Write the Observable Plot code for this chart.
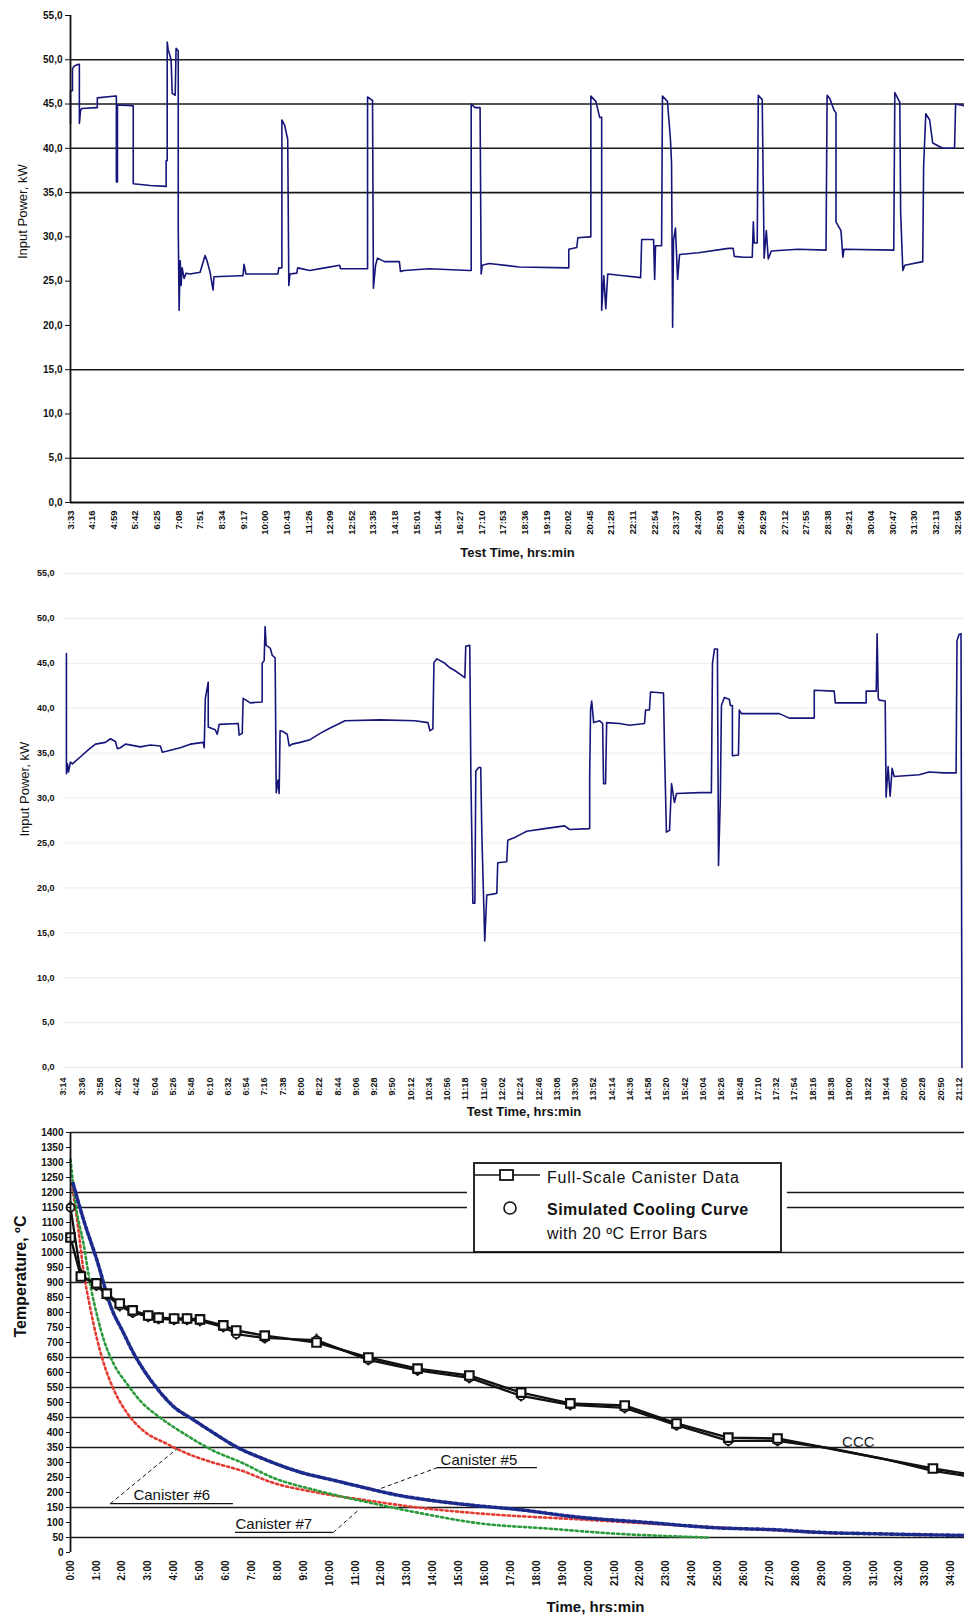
<!DOCTYPE html>
<html><head><meta charset="utf-8">
<script src="https://cdn.jsdelivr.net/npm/d3@7"></script>
<script src="https://cdn.jsdelivr.net/npm/@observablehq/plot@0.6"></script>
<style>
html,body{margin:0;padding:0;background:#fff;}
#wrap{position:relative;width:964px;height:1621px;overflow:hidden;background:#fff;}
#wrap svg{display:block;}
</style></head><body><div id="wrap"></div>
<script>
// ---------- Panel 1 : Input Power vs Test Time ----------
const p1TickLabels = ["3:33","4:16","4:59","5:42","6:25","7:08","7:51","8:34","9:17","10:00","10:43","11:26","12:09","12:52","13:35","14:18","15:01","15:44","16:27","17:10","17:53","18:36","19:19","20:02","20:45","21:28","22:11","22:54","23:37","24:20","25:03","25:46","26:29","27:12","27:55","28:38","29:21","30:04","30:47","31:30","32:13","32:56"];
const p1YTicks = [0,5,10,15,20,25,30,35,40,45,50,55];
const p1GridLines = [50,45,40,35,15,5];
// [position in label steps, kW]
const p1Power = [[0,42.8],[0,46.5],[0.09,46.5],[0.09,49.0],[0.18,49.3],[0.37,49.5],[0.41,49.5],[0.41,42.8],[0.46,44.2],[0.51,44.5],[1.20,44.6],[1.24,44.6],[1.24,45.7],[2.07,45.9],[2.12,45.9],[2.12,36.2],[2.17,36.2],[2.17,44.9],[2.86,44.8],[2.90,44.8],[2.90,36.0],[3.69,35.8],[4.42,35.7],[4.42,38.6],[4.47,38.6],[4.47,52.0],[4.51,51.2],[4.65,50.0],[4.70,46.2],[4.84,46.0],[4.88,51.3],[4.98,51.0],[4.98,31.0],[5.02,21.7],[5.07,27.3],[5.11,24.5],[5.16,26.5],[5.25,25.3],[5.34,25.9],[5.53,25.8],[5.99,26.0],[6.22,27.9],[6.31,27.3],[6.45,26.0],[6.59,24.0],[6.63,25.5],[7.83,25.6],[7.97,25.6],[8.02,26.9],[8.11,25.8],[9.58,25.8],[9.63,26.5],[9.77,26.5],[9.77,43.2],[9.90,42.6],[10.04,41.0],[10.09,24.5],[10.14,25.8],[10.46,25.9],[10.50,26.5],[11.06,26.2],[11.75,26.5],[12.44,26.8],[12.48,26.4],[13.73,26.4],[13.73,45.8],[13.96,45.4],[14.00,24.2],[14.10,26.8],[14.19,27.6],[14.51,27.2],[15.20,27.2],[15.25,26.1],[15.43,26.2],[16.58,26.4],[18.43,26.2],[18.52,26.2],[18.52,45.0],[18.70,44.6],[18.93,44.6],[18.98,25.8],[19.03,26.8],[19.35,27.0],[20.73,26.6],[23.03,26.5],[23.03,28.6],[23.40,28.8],[23.45,29.9],[24.00,30.0],[24.05,30.0],[24.05,45.9],[24.28,45.3],[24.46,43.5],[24.55,43.5],[24.55,21.7],[24.65,25.6],[24.74,21.9],[24.83,25.8],[25.57,25.6],[26.35,25.4],[26.40,29.7],[26.95,29.7],[27.00,25.2],[27.04,29.0],[27.32,29.0],[27.36,45.9],[27.59,45.3],[27.73,41.0],[27.78,38.3],[27.83,19.8],[27.87,29.6],[27.96,31.0],[28.06,25.2],[28.15,28.0],[29.02,28.2],[30.41,28.7],[30.63,28.7],[30.68,27.8],[31.10,27.7],[31.51,27.7],[31.56,31.7],[31.60,29.3],[31.74,29.3],[31.79,46.0],[31.97,45.5],[32.06,27.6],[32.16,30.7],[32.25,27.5],[32.39,28.4],[33.63,28.6],[34.92,28.5],[34.97,46.0],[35.10,45.6],[35.29,44.3],[35.38,44.0],[35.38,31.7],[35.61,30.7],[35.70,27.7],[35.75,28.6],[38.05,28.5],[38.10,46.3],[38.33,45.2],[38.37,32.6],[38.47,26.2],[38.56,26.8],[39.39,27.2],[39.43,37.9],[39.53,43.9],[39.71,43.2],[39.85,40.6],[40.31,40.0],[40.86,40.0],[40.91,45.0],[41.30,44.8]];

// ---------- Panel 2 : Input Power vs Test Time ----------
const p2TickLabels = ["3:14","3:36","3:58","4:20","4:42","5:04","5:26","5:48","6:10","6:32","6:54","7:16","7:38","8:00","8:22","8:44","9:06","9:28","9:50","10:12","10:34","10:56","11:18","11:40","12:02","12:24","12:46","13:08","13:30","13:52","14:14","14:36","14:58","15:20","15:42","16:04","16:26","16:48","17:10","17:32","17:54","18:16","18:38","19:00","19:22","19:44","20:06","20:28","20:50","21:12"];
const p2YTicks = [0,5,10,15,20,25,30,35,40,45,50,55];
const p2Power = [[0.16,46.1],[0.16,32.7],[0.22,33.8],[0.27,32.9],[0.38,34.0],[0.49,33.8],[0.93,34.6],[1.37,35.4],[1.75,36.0],[2.29,36.2],[2.57,36.6],[2.84,36.3],[2.95,35.5],[3.11,35.6],[3.39,36.0],[4.21,35.7],[4.75,35.9],[5.30,35.8],[5.41,35.1],[5.63,35.2],[6.39,35.6],[6.94,36.0],[7.65,36.2],[7.70,35.6],[7.76,41.1],[7.92,42.9],[7.92,37.9],[8.30,37.6],[8.41,37.1],[8.52,38.2],[9.56,38.3],[9.61,37.0],[9.78,37.2],[9.83,41.1],[10.22,40.6],[10.87,40.7],[10.87,45.0],[10.98,45.3],[11.03,49.1],[11.09,47.0],[11.31,46.7],[11.42,45.9],[11.58,45.6],[11.64,30.6],[11.74,32.0],[11.80,30.5],[11.85,37.5],[12.02,37.4],[12.24,37.1],[12.35,35.8],[12.51,36.0],[12.95,36.2],[13.49,36.5],[14.04,37.2],[14.59,37.8],[15.40,38.6],[17.32,38.7],[19.23,38.6],[19.94,38.4],[20.05,37.5],[20.21,37.7],[20.27,45.1],[20.43,45.5],[20.87,45.0],[21.14,44.5],[21.41,44.2],[21.69,43.8],[21.96,43.4],[22.01,46.9],[22.23,47.0],[22.29,32.5],[22.40,18.3],[22.51,18.3],[22.56,33.0],[22.72,33.4],[22.83,33.4],[22.89,26.0],[23.05,14.1],[23.16,19.2],[23.49,19.3],[23.71,19.4],[23.76,22.8],[24.25,22.9],[24.31,25.3],[24.69,25.6],[24.96,25.9],[25.35,26.3],[26.33,26.6],[27.42,26.9],[27.69,26.5],[28.79,26.6],[28.79,32.3],[28.84,39.8],[28.90,40.8],[29.01,38.4],[29.34,38.6],[29.50,38.3],[29.55,31.6],[29.66,31.6],[29.72,38.4],[30.43,38.3],[30.97,38.1],[31.79,38.3],[31.85,39.8],[32.06,39.8],[32.12,41.8],[32.83,41.7],[32.89,35.0],[32.99,26.2],[33.16,26.4],[33.27,31.6],[33.43,29.5],[33.54,30.5],[34.80,30.6],[35.45,30.6],[35.51,45.0],[35.62,46.6],[35.78,46.6],[35.84,22.5],[35.94,30.0],[36.00,40.3],[36.16,41.2],[36.43,41.0],[36.49,40.3],[36.60,40.3],[36.60,34.7],[36.93,34.8],[36.98,39.8],[37.09,39.4],[39.17,39.4],[39.71,38.9],[41.08,38.9],[41.08,42.0],[42.17,41.9],[42.23,40.6],[43.92,40.6],[43.92,41.9],[44.47,41.9],[44.52,48.3],[44.58,41.2],[44.63,40.9],[44.96,40.8],[45.01,30.1],[45.12,33.5],[45.23,30.2],[45.34,33.3],[45.45,32.4],[46.82,32.6],[47.36,32.9],[48.18,32.8],[48.84,32.8],[48.89,47.5],[49.00,48.2],[49.11,48.3],[49.16,0]];

// ---------- Panel 3 : Temperature vs Time ----------
const p3TickLabels = ["0:00","1:00","2:00","3:00","4:00","5:00","6:00","7:00","8:00","9:00","10:00","11:00","12:00","13:00","14:00","15:00","16:00","17:00","18:00","19:00","20:00","21:00","22:00","23:00","24:00","25:00","26:00","27:00","28:00","29:00","30:00","31:00","32:00","33:00","34:00"];
const p3YTicks = d3.range(0, 1401, 50);
const p3GridFull = [1400,1000,900,650,550,450,350,150,50];
const p3GridBroken = [1200,1150];
// [hours, °C]
const fullScaleData = [[0,1050],[0.4,920],[1.0,897],[1.4,863],[1.9,830],[2.4,807],[3.0,790],[3.4,783],[4.0,780],[4.5,780],[5.0,777],[5.9,757],[6.4,740],[7.5,723],[9.5,700],[11.5,650],[13.4,613],[15.4,590],[17.4,533],[19.3,497],[21.4,490],[23.4,430],[25.4,383],[27.3,380],[33.3,280],[34.52,263]];
const simulatedCurve = [[0,1150],[0.4,925],[1.0,890],[1.4,858],[1.9,822],[2.4,800],[3.0,786],[3.4,779],[4.0,776],[4.5,776],[5.0,772],[5.9,752],[6.4,728],[7.5,715],[9.5,708],[11.5,642],[13.4,607],[15.4,582],[17.4,522],[19.3,492],[21.4,482],[23.4,424],[25.4,372],[27.3,372],[29.3,348],[31.3,314],[33.3,272],[34.52,256]];
const simulatedMarked = 24; // first points carry markers & error bars
const canister5 = [[0.1,1230],[0.5,1110],[1.0,980],[1.6,810],[2.0,740],[2.45,662],[2.8,612],[3.36,545],[4.0,485],[4.7,445],[5.5,400],[6.3,357],[7.6,307],[8.9,267],[10.2,240],[11.5,213],[12.7,190],[14.0,173],[15.8,155],[17.1,145],[19.7,117],[22.3,100],[24.8,83],[27.4,75],[28.7,68],[31.3,62],[34.52,57]];
const canister6 = [[0.05,1230],[0.3,1080],[0.5,940],[0.75,820],[1.0,720],[1.25,640],[1.66,545],[2.2,463],[2.8,407],[3.7,363],[4.5,330],[5.5,300],[6.6,273],[7.8,233],[9.5,200],[11.5,173],[13.4,150],[15.8,130],[19.7,110],[23.6,90],[27.4,73],[29.6,63]];
const canister7 = [[0,1310],[0.2,1160],[0.5,1030],[0.77,890],[1.04,785],[1.3,705],[1.66,630],[2.2,560],[2.7,505],[3.5,447],[4.5,390],[5.5,340],[6.6,300],[7.8,250],[9.5,207],[11.5,167],[13.4,133],[15.8,97],[18.4,80],[21.0,63],[23.6,53],[24.6,50]];
const errorBar = 20;
const curveLabels = [{t:2.43,T:190,text:"Canister #6"},{t:6.37,T:93,text:"Canister #7"},{t:14.29,T:307,text:"Canister #5"}];
const curveUnderlines = [{x1:1.54,x2:6.29,T:163},{x1:6.37,x2:10.15,T:67},{x1:14.17,x2:18.03,T:283}];
const curveLeaders = [{x1:1.54,y1:163,x2:4.13,y2:347},{x1:10.15,y1:67,x2:11.1,y2:140},{x1:14.17,y1:283,x2:11.97,y2:213}];
const cccLabel = [{t:30.42,T:367,text:"CCC"}];
const legendGap = [15.33, 27.68];

const FONT = "'Liberation Sans', Arial, Helvetica, sans-serif";
const comma = d => d.toFixed(1).replace(".", ",");
const wrap = document.getElementById("wrap");
const pts = a => a.map(([x, y]) => ({x, y}));

// Panel 1
const p1 = Plot.plot({
  width: 964, height: 564,
  marginLeft: 70, marginRight: 0, marginTop: 15, marginBottom: 62,
  style: {fontFamily: FONT, background: "#fff", color: "#111"},
  x: {domain: [0, 41.32], axis: null},
  y: {domain: [0, 55], axis: null},
  marks: [
    Plot.ruleY(p1GridLines, {stroke: "#1a1a1a", strokeWidth: 1.6}),
    Plot.line(pts(p1Power), {x: "x", y: "y", stroke: "#15157a", strokeWidth: 1.6}),
    Plot.ruleX([0], {stroke: "#111", strokeWidth: 1.8}),
    Plot.ruleY([0], {stroke: "#111", strokeWidth: 1.8}),
    Plot.axisY({ticks: p1YTicks, tickFormat: comma, tickSize: 5, tickPadding: 3, fontSize: 10, fontWeight: "bold", label: null, stroke: "#111"}),
    Plot.axisX({ticks: p1TickLabels.map((_, i) => i), tickFormat: i => p1TickLabels[i], tickRotate: -90, tickSize: 0, tickPadding: 8, fontSize: 9.5, fontWeight: "bold", label: null}),
    Plot.text(["Test Time, hrs:min"], {text: d => d, frameAnchor: "bottom", dy: 54, fontSize: 13, fontWeight: "bold"}),
    Plot.text(["Input Power, kW"], {text: d => d, frameAnchor: "left", rotate: -90, dx: -48, fontSize: 13})
  ]
});
wrap.appendChild(p1);

// Panel 2
const p2 = Plot.plot({
  width: 964, height: 560,
  marginLeft: 63, marginRight: 0, marginTop: 9, marginBottom: 57,
  style: {fontFamily: FONT, background: "#fff", color: "#111"},
  x: {domain: [0, 49.3], axis: null},
  y: {domain: [0, 55], axis: null},
  marks: [
    Plot.ruleY(p2YTicks, {stroke: "#ececec", strokeWidth: 1}),
    Plot.line(pts(p2Power), {x: "x", y: "y", stroke: "#15157a", strokeWidth: 1.6}),
    Plot.axisY({ticks: p2YTicks, tickFormat: comma, tickSize: 0, tickPadding: 9, fontSize: 9, fontWeight: "bold", label: null}),
    Plot.axisX({ticks: p2TickLabels.map((_, i) => i), tickFormat: i => p2TickLabels[i], tickRotate: -90, tickSize: 0, tickPadding: 10, fontSize: 9, fontWeight: "bold", label: null}),
    Plot.text(["Test Time, hrs:min"], {text: d => d, frameAnchor: "bottom", dx: 10, dy: 48, fontSize: 13, fontWeight: "bold"}),
    Plot.text(["Input Power, kW"], {text: d => d, frameAnchor: "left", rotate: -90, dx: -39, dy: 16, fontSize: 13})
  ]
});
wrap.appendChild(p2);

// Panel 3
const simPts = pts(simulatedCurve);
const brokenRules = p3GridBroken.flatMap(y => [{y, x1: 0, x2: legendGap[0]}, {y, x1: legendGap[1], x2: 34.52}]);
const p3 = Plot.plot({
  width: 964, height: 497,
  marginLeft: 70, marginRight: 0, marginTop: 8, marginBottom: 69,
  style: {fontFamily: FONT, background: "#fff", color: "#111"},
  x: {domain: [0, 34.52], axis: null},
  y: {domain: [0, 1400], axis: null},
  marks: [
    Plot.ruleY(p3GridFull, {stroke: "#1a1a1a", strokeWidth: 1.6}),
    Plot.ruleY(brokenRules, {y: "y", x1: "x1", x2: "x2", stroke: "#1a1a1a", strokeWidth: 1.6}),
    Plot.line(pts(canister6), {x: "x", y: "y", stroke: "#e23b32", strokeWidth: 2.6, strokeDasharray: "2.2,3", curve: "monotone-x"}),
    Plot.line(pts(canister7), {x: "x", y: "y", stroke: "#2b9a3b", strokeWidth: 2.6, strokeDasharray: "2.2,3", curve: "monotone-x"}),
    Plot.line(pts(canister5), {x: "x", y: "y", stroke: "#1c2a8c", strokeWidth: 3.6, strokeDasharray: "3,2.6", curve: "monotone-x"}),
    Plot.line(simPts, {x: "x", y: "y", stroke: "#111", strokeWidth: 2.2}),
    Plot.line(pts(fullScaleData), {x: "x", y: "y", stroke: "#111", strokeWidth: 2.4}),
    Plot.ruleX(simPts.slice(0, simulatedMarked), {x: "x", y1: d => d.y - errorBar, y2: d => d.y + errorBar, stroke: "#111", strokeWidth: 2}),
    Plot.dot(simPts.slice(0, simulatedMarked), {x: "x", y: "y", r: 4, fill: "#fff", stroke: "#111", strokeWidth: 1.8}),
    Plot.dot(pts(fullScaleData).slice(0, -1), {x: "x", y: "y", symbol: "square", r: 4.8, fill: "#fff", stroke: "#111", strokeWidth: 2.2}),
    Plot.ruleY(curveUnderlines, {y: "T", x1: "x1", x2: "x2", stroke: "#111", strokeWidth: 1.3}),
    Plot.link(curveLeaders, {x1: "x1", y1: "y1", x2: "x2", y2: "y2", stroke: "#111", strokeWidth: 1, strokeDasharray: "4,3"}),
    Plot.text(curveLabels, {x: "t", y: "T", text: "text", textAnchor: "start", fontSize: 15, letterSpacing: 1, fill: "#111"}),
    Plot.text(cccLabel, {x: "t", y: "T", text: "text", fontSize: 15, fill: "#222"}),
    Plot.ruleX([0], {stroke: "#111", strokeWidth: 1.8}),
    Plot.axisY({ticks: p3YTicks, tickFormat: d => String(d), tickSize: 4, tickPadding: 3, fontSize: 10, fontWeight: "bold", label: null}),
    Plot.axisX({ticks: p3TickLabels.map(s => +s.split(":")[0]), tickFormat: h => p3TickLabels[h], tickRotate: -90, tickSize: 0, tickPadding: 8, fontSize: 10, fontWeight: "bold", label: null}),
    Plot.text(["Time, hrs:min"], {text: d => d, frameAnchor: "bottom", dx: 78, dy: 59, fontSize: 15, fontWeight: "bold"}),
    Plot.text(["Temperature, ºC"], {text: d => d, frameAnchor: "left", rotate: -90, dx: -50, dy: -5, fontSize: 16, fontWeight: "bold", letterSpacing: 1})
  ]
});
wrap.appendChild(p3);

// Legend (drawn in pixel space of panel 3)
const lg = d3.select(p3).append("g").attr("font-family", FONT).attr("text-anchor", "start");
lg.append("rect").attr("x", 474).attr("y", 39).attr("width", 307).attr("height", 89).attr("fill", "#fff").attr("stroke", "#111").attr("stroke-width", 1.8);
lg.append("line").attr("x1", 475).attr("x2", 540).attr("y1", 51).attr("y2", 51).attr("stroke", "#111").attr("stroke-width", 1.6);
lg.append("rect").attr("x", 500).attr("y", 46).attr("width", 13).attr("height", 10).attr("fill", "#fff").attr("stroke", "#111").attr("stroke-width", 1.8);
lg.append("text").attr("x", 547).attr("y", 59).attr("text-anchor", "start").attr("font-size", 16).attr("letter-spacing", 0.8).attr("fill", "#111").text("Full-Scale Canister Data");
lg.append("circle").attr("cx", 510).attr("cy", 84).attr("r", 6).attr("fill", "#fff").attr("stroke", "#111").attr("stroke-width", 1.6);
lg.append("text").attr("x", 547).attr("y", 91).attr("text-anchor", "start").attr("font-size", 16).attr("font-weight", "bold").attr("letter-spacing", 0.5).attr("fill", "#111").text("Simulated Cooling Curve");
lg.append("text").attr("x", 547).attr("y", 115).attr("text-anchor", "start").attr("font-size", 16).attr("letter-spacing", 0.5).attr("fill", "#111").text("with 20 ºC Error Bars");
</script>
</body></html>
